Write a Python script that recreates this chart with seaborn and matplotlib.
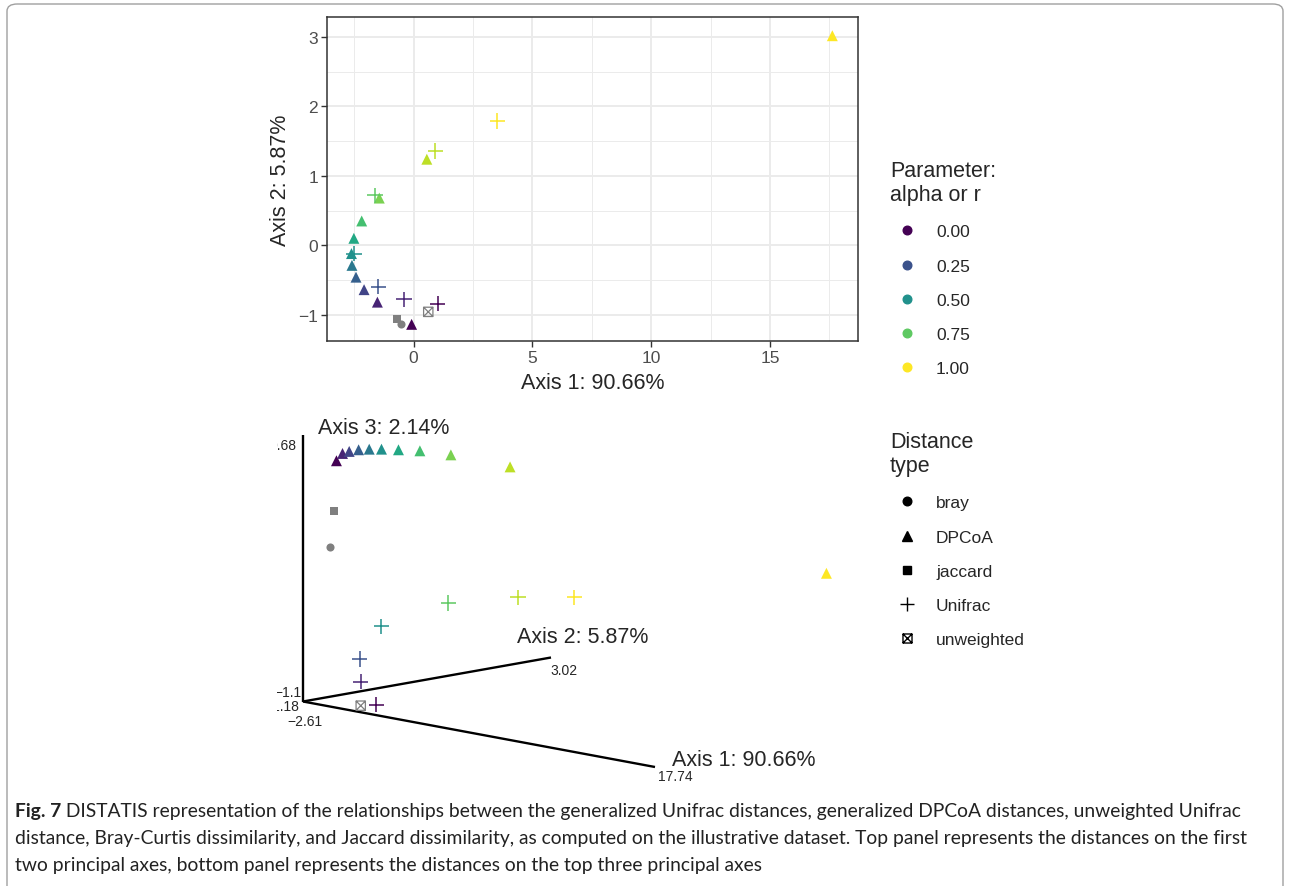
import numpy as np
import pandas as pd
import matplotlib
matplotlib.use("Agg")
import matplotlib.pyplot as plt
import seaborn as sns
from matplotlib.lines import Line2D
from matplotlib.path import Path
from matplotlib.patches import FancyBboxPatch

sns.set_style("white")
plt.rcParams['font.family'] = ['Liberation Sans', 'DejaVu Sans']

# ==============================
# DATA (DISTATIS coordinates)
# ==============================
dpcoa_alpha = [0.0, 0.1, 0.2, 0.3, 0.4, 0.5, 0.6, 0.7, 0.8, 0.9, 1.0]
dpcoa_ax1 = [-0.08, -1.52, -2.08, -2.42, -2.59, -2.61, -2.51, -2.18, -1.44, 0.56, 17.62]
dpcoa_ax2 = [-1.14, -0.82, -0.64, -0.46, -0.29, -0.12, 0.10, 0.35, 0.68, 1.24, 3.02]
dpcoa_ax3 = [0.503, 0.573, 0.600, 0.625, 0.642, 0.655, 0.667, 0.678, 0.671, 0.614, -0.142]

unifrac_alpha = [0.0, 0.1, 0.25, 0.5, 0.75, 0.9, 1.0]
unifrac_ax1 = [1.02, -0.40, -1.48, -2.50, -1.62, 0.91, 3.52]
unifrac_ax2 = [-0.84, -0.78, -0.60, -0.12, 0.72, 1.36, 1.79]
unifrac_ax3 = [-1.164, -1.030, -0.897, -0.695, -0.534, -0.480, -0.466]

other_type = ["bray", "jaccard", "unweighted"]
other_ax1 = [-0.53, -0.71, 0.62]
other_ax2 = [-1.13, -1.06, -0.96]
other_ax3 = [-0.072, 0.171, -1.165]

axis_titles = ["Axis 1: 90.66%", "Axis 2: 5.87%", "Axis 3: 2.14%"]
axis_min = [-2.61, -1.1, -1.18]
axis_max = [17.74, 3.02, 0.68]

legend_alpha = [0.00, 0.25, 0.50, 0.75, 1.00]
legend_types = ["bray", "DPCoA", "jaccard", "Unifrac", "unweighted"]

# 3D view: screen vector of each (scaled) axis and perspective weights
view_basis = np.array([[352.0, 65.5], [248.0, -44.0], [0.0, -267.0]])
view_persp = np.array([-0.200, 0.426, -0.030])


def project(p1, p2, p3):
    f = np.column_stack([(np.asarray(p, float) - lo) / (hi - lo)
                         for p, lo, hi in zip((p1, p2, p3), axis_min, axis_max)])
    num = (f * (1 + view_persp)) @ view_basis
    den = 1 + f @ view_persp
    return num[:, 0] / den, num[:, 1] / den


# ==============================
# FIGURE
# ==============================
W, H = 1290, 887
fig = plt.figure(figsize=(12.9, 8.87), dpi=100)


def px_box(l, t, r, b):
    return [l / W, 1 - b / H, (r - l) / W, (b - t) / H]


bg = fig.add_axes([0, 0, 1, 1], zorder=-5)
bg.set_xlim(0, 1)
bg.set_ylim(0, 1)
bg.axis('off')
bg.add_patch(FancyBboxPatch((7 / W, -0.05), (1283 - 7) / W, 1.05 - 5 / H,
                            boxstyle="round,pad=0,rounding_size=0.008",
                            fc='none', ec='#a0a0a0', lw=1.0, transform=bg.transAxes))

vir = sns.color_palette("viridis", as_cmap=True)
grey = "#7F7F7F"
box_x = Path([(-1, -1), (1, -1), (1, 1), (-1, 1), (-1, -1), (-1, -1), (1, 1), (-1, 1), (1, -1)],
             [Path.MOVETO, Path.LINETO, Path.LINETO, Path.LINETO, Path.CLOSEPOLY,
              Path.MOVETO, Path.LINETO, Path.MOVETO, Path.LINETO])

dp = pd.DataFrame({"ax1": dpcoa_ax1, "ax2": dpcoa_ax2, "ax3": dpcoa_ax3, "alpha": dpcoa_alpha})
uf = pd.DataFrame({"ax1": unifrac_ax1, "ax2": unifrac_ax2, "ax3": unifrac_ax3, "alpha": unifrac_alpha})
ot = pd.DataFrame({"ax1": other_ax1, "ax2": other_ax2, "ax3": other_ax3, "type": other_type})


def draw_points(ax, d, u, o, xcol, ycol):
    sns.scatterplot(data=d, x=xcol, y=ycol, hue="alpha", palette="viridis", hue_norm=(0, 1),
                    marker="^", s=62, linewidth=0, legend=False, ax=ax, zorder=3)
    sns.scatterplot(data=u, x=xcol, y=ycol, hue="alpha", palette="viridis", hue_norm=(0, 1),
                    marker="+", s=120, linewidth=1.1, legend=False, ax=ax, zorder=3)
    sns.scatterplot(data=o[o["type"] == "jaccard"], x=xcol, y=ycol, color=grey, marker="s",
                    s=30, linewidth=0, legend=False, ax=ax, zorder=3)
    sns.scatterplot(data=o[o["type"] == "bray"], x=xcol, y=ycol, color=grey, marker="o",
                    s=34, linewidth=0, legend=False, ax=ax, zorder=3)
    uw = o[o["type"] == "unweighted"]
    ax.scatter(uw[xcol], uw[ycol], marker=box_x, s=45, facecolors='none',
               edgecolors=grey, linewidths=0.9, zorder=3)


# ---- top panel: first two axes ----
ax = fig.add_axes(px_box(327, 18, 858, 342))
draw_points(ax, dp, uf, ot, "ax1", "ax2")
ax.set_xlim(-3.64, 18.7)
ax.set_ylim(-1.38, 3.29)
ax.set_xticks([0, 5, 10, 15])
ax.set_xticks([-2.5, 2.5, 7.5, 12.5, 17.5], minor=True)
ax.set_yticks([-1, 0, 1, 2, 3])
ax.set_yticks([-0.5, 0.5, 1.5, 2.5], minor=True)
ax.grid(which='major', color='#EBEBEB', lw=1.4)
ax.grid(which='minor', color='#EBEBEB', lw=0.7)
ax.set_axisbelow(True)
for sp in ax.spines.values():
    sp.set_color('#333333')
    sp.set_linewidth(1.1)
ax.tick_params(which='major', direction='out', length=4, width=1, color='#333333',
               labelcolor='#4D4D4D', labelsize=12.5, pad=2.5, left=True, bottom=True)
ax.tick_params(which='minor', length=0)
ax.set_xlabel(axis_titles[0], fontsize=15.5, labelpad=5)
ax.set_ylabel(axis_titles[1], fontsize=15.5, labelpad=5)

# ---- bottom panel: 3D view of the first three axes ----
bx = fig.add_axes(px_box(276.5, 410, 870, 790))
corner = project([axis_min[0]], [axis_min[1]], [axis_min[2]])
ends = [project([axis_max[0]], [axis_min[1]], [axis_min[2]]),
        project([axis_min[0]], [axis_max[1]], [axis_min[2]]),
        project([axis_min[0]], [axis_min[1]], [axis_max[2]])]
for e in ends:
    bx.plot([corner[0][0], e[0][0]], [corner[1][0], e[1][0]], color='black', lw=1.7,
            solid_capstyle='butt', zorder=2)

for d in (dp, uf, ot):
    sx, sy = project(d["ax1"], d["ax2"], d["ax3"])
    d["sx"] = sx
    d["sy"] = sy
draw_points(bx, dp, uf, ot, "sx", "sy")
bx.set_xlim(-26.5, 567)
bx.set_ylim(87.5, -292.5)
bx.axis('off')


def fmt(v):
    return f"{v:g}".replace("-", "\u2212")


pt = 0.72
max_off = [((20, -9), 'center'), ((-1, -13), 'left'), ((-7, -11), 'right')]
title_off = [((17, 7), 'left'), ((-34, 21), 'left'), ((15, 7), 'left')]
min_off = [((2, -20), 'center'), ((-1.3, 9), 'right'), ((-3.7, -5), 'right')]
for k in range(3):
    e = ends[k]
    (ox, oy), ha = max_off[k]
    t = bx.annotate(fmt(axis_max[k]), (e[0][0], e[1][0]), xytext=(ox * pt, oy * pt),
                    textcoords='offset points', ha=ha, va='center', fontsize=10, annotation_clip=False)
    t.set_clip_box(bx.bbox)
    t.set_clip_on(True)
    (ox, oy), ha = title_off[k]
    bx.annotate(axis_titles[k], (e[0][0], e[1][0]), xytext=(ox * pt, oy * pt),
                textcoords='offset points', ha=ha, va='center', fontsize=15.5)
    (ox, oy), ha = min_off[k]
    t = bx.annotate(fmt(axis_min[k]), (corner[0][0], corner[1][0]), xytext=(ox * pt, oy * pt),
                    textcoords='offset points', ha=ha, va='center', fontsize=10, annotation_clip=False)
    t.set_clip_box(bx.bbox)
    t.set_clip_on(True)

# ---- legends ----
alpha_handles = [Line2D([], [], ls='none', marker='o', markersize=6.2, color=vir(a)) for a in legend_alpha]
fig.legend(alpha_handles, [f"{a:.2f}" for a in legend_alpha], title="Parameter:\nalpha or r",
           loc='upper left', bbox_to_anchor=(890 / W, 1 - 161 / H), frameon=False,
           fontsize=12.5, title_fontsize=15.5, labelspacing=1.10, handlelength=1.95,
           handletextpad=0.7, borderpad=0, borderaxespad=0, alignment='left')
shape_markers = [('o', 6.2), ('^', 7.5), ('s', 6.0), ('+', 10), (box_x, 6.5)]
shape_handles = [Line2D([], [], ls='none', marker=m, markersize=ms, color='black',
                        markerfacecolor='none' if m is box_x else 'black', markeredgewidth=1.0)
                 for m, ms in shape_markers]
fig.legend(shape_handles, legend_types, title="Distance\ntype",
           loc='upper left', bbox_to_anchor=(890 / W, 1 - 432 / H), frameon=False,
           fontsize=12.5, title_fontsize=15.5, labelspacing=1.10, handlelength=1.95,
           handletextpad=0.7, borderpad=0, borderaxespad=0, alignment='left')

# ---- caption ----
cap_font = ['Lato', 'DejaVu Sans']
cap_size = 13.9
bold = bg.text(15 / W, 1 - 812 / H, "Fig. 7", fontweight='bold', fontsize=cap_size, family=cap_font,
               va='center', ha='left', color='#222222')
bg.annotate(" DISTATIS representation of the relationships between the generalized Unifrac distances, "
            "generalized DPCoA distances, unweighted Unifrac",
            xy=(1, 0), xycoords=bold, va='bottom', ha='left', fontsize=cap_size, family=cap_font,
            color='#222222')
bg.text(15 / W, 1 - 839 / H, "distance, Bray-Curtis dissimilarity, and Jaccard dissimilarity, as computed on "
        "the illustrative dataset. Top panel represents the distances on the first",
        fontsize=cap_size, family=cap_font, va='center', ha='left', color='#222222')
bg.text(15 / W, 1 - 866 / H, "two principal axes, bottom panel represents the distances on the top three principal axes",
        fontsize=cap_size, family=cap_font, va='center', ha='left', color='#222222')

fig.savefig("out.png", dpi=100)
